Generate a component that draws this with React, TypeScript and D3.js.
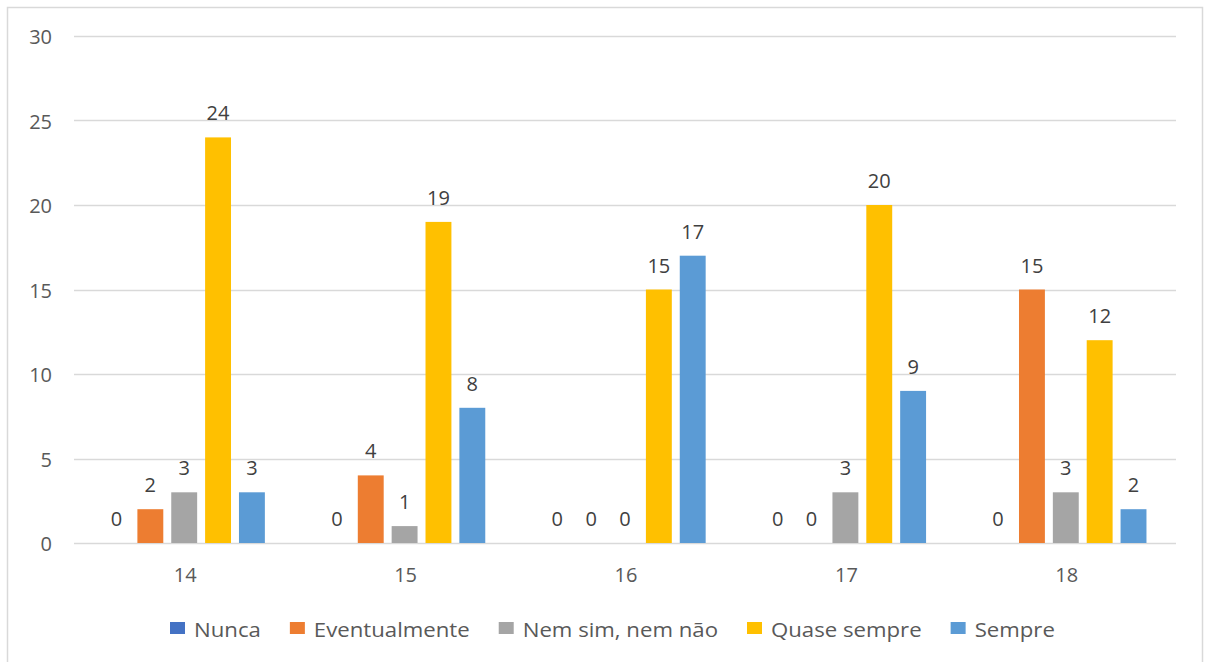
import React, { useEffect, useRef } from "react";
import * as d3 from "d3";

const categories = ["14", "15", "16", "17", "18"];
const seriesNames = ["Nunca", "Eventualmente", "Nem sim, nem não", "Quase sempre", "Sempre"];
const nunca = [0, 0, 0, 0, 0];
const eventualmente = [2, 4, 0, 0, 15];
const nemSimNemNao = [3, 1, 0, 3, 3];
const quaseSempre = [24, 19, 15, 20, 12];
const sempre = [3, 8, 17, 9, 2];
const yTicks = [0, 5, 10, 15, 20, 25, 30];
const colors = ["#4472C4", "#ED7D31", "#A5A5A5", "#FFC000", "#5B9BD5"];

const seriesValues = [nunca, eventualmente, nemSimNemNao, quaseSempre, sempre];

export default function App() {
  const ref = useRef<SVGSVGElement>(null);

  useEffect(() => {
    const svg = d3.select(ref.current);
    svg.selectAll("*").remove();
    const W = 1205, H = 662;
    const font = "'Open Sans', sans-serif";

    svg.append("rect").attr("x", 0).attr("y", 0).attr("width", W).attr("height", H).attr("fill", "#fff");
    svg.append("rect").attr("x", 7.5).attr("y", 7.5).attr("width", 1195).attr("height", 700)
      .attr("fill", "none").attr("stroke", "#d9d9d9").attr("stroke-width", 1.5);

    const x0 = d3.scaleBand().domain(categories).range([74, 1176]).padding(0);
    const bw = x0.bandwidth();
    const x1 = d3.scaleBand().domain(seriesNames).range([bw * 0.134, bw * 0.866]).paddingInner(0.235).paddingOuter(0);
    const y = d3.scaleLinear().domain([0, 30]).range([543, 36]);

    const g = svg.append("g");
    g.selectAll("line.grid").data(yTicks).enter().append("line")
      .attr("x1", 74).attr("x2", 1176)
      .attr("y1", (d) => Math.round(y(d)) + 0.5).attr("y2", (d) => Math.round(y(d)) + 0.5)
      .attr("stroke", "#d9d9d9").attr("stroke-width", 1.3);

    g.selectAll("text.ytick").data(yTicks).enter().append("text")
      .attr("x", 52).attr("y", (d) => y(d) + 8)
      .attr("text-anchor", "end").attr("font-family", font).attr("font-size", 20)
      .attr("fill", "#595959").text((d) => String(d));

    g.selectAll("text.xtick").data(categories).enter().append("text")
      .attr("x", (d) => (x0(d) as number) + bw / 2 + 1).attr("y", 582)
      .attr("text-anchor", "middle").attr("font-family", font).attr("font-size", 20)
      .attr("fill", "#595959").text((d) => d);

    const flat: { cat: string; s: string; v: number; i: number }[] = [];
    categories.forEach((c, ci) => {
      seriesNames.forEach((s, si) => {
        flat.push({ cat: c, s, v: seriesValues[si][ci], i: si });
      });
    });

    g.selectAll("rect.bar").data(flat).enter().append("rect")
      .attr("x", (d) => (x0(d.cat) as number) + (x1(d.s) as number))
      .attr("y", (d) => y(d.v))
      .attr("width", x1.bandwidth())
      .attr("height", (d) => y(0) - y(d.v))
      .attr("fill", (d) => colors[d.i]);

    g.selectAll("text.lbl").data(flat).enter().append("text")
      .attr("x", (d) => (x0(d.cat) as number) + (x1(d.s) as number) + x1.bandwidth() / 2)
      .attr("y", (d) => y(d.v) - 17)
      .attr("text-anchor", "middle").attr("font-family", font).attr("font-size", 20)
      .attr("fill", "#404040").text((d) => String(d.v));

    // legend
    const lg = svg.append("g");
    const sx = 1.11;
    let cx = 170;
    seriesNames.forEach((s, i) => {
      lg.append("rect").attr("x", cx).attr("y", 622).attr("width", 15).attr("height", 12).attr("fill", colors[i]);
      const tg = lg.append("g").attr("transform", `translate(${cx + 24},637) scale(${sx},1)`);
      const t = tg.append("text").attr("x", 0).attr("y", 0)
        .attr("font-family", font).attr("font-size", 20).attr("fill", "#595959").text(s);
      const w = (t.node() as SVGTextElement).getComputedTextLength() * sx;
      cx = cx + 24 + w + 29;
    });
  }, []);

  return (
    <svg ref={ref} width={1205} height={662}
      style={{ position: "absolute", left: 0, top: 0, display: "block" }} />
  );
}
